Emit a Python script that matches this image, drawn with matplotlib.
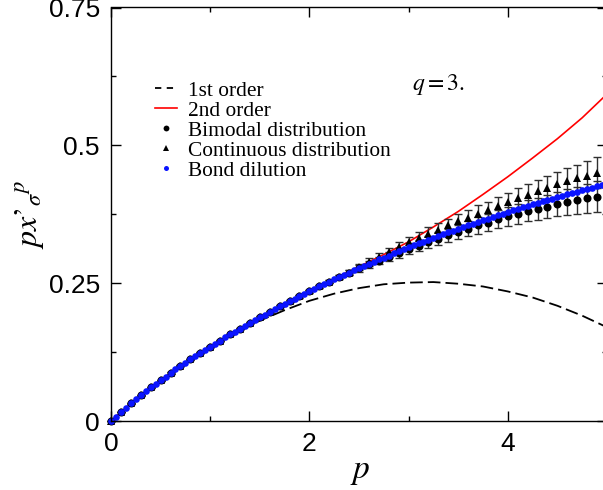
import numpy as np
import matplotlib
matplotlib.use("Agg")
import matplotlib.pyplot as plt
from matplotlib.lines import Line2D

plt.rcParams["mathtext.fontset"] = "stix"
plt.rcParams["font.family"] = ["Liberation Sans", "DejaVu Sans"]

# ---- series-expansion curves (sampled every 0.25 in p) ----
p_curve = [0.0, 0.25, 0.5, 0.75, 1.0, 1.25, 1.5, 1.75, 2.0, 2.25, 2.5,
           2.75, 3.0, 3.25, 3.5, 3.75, 4.0, 4.25, 4.5, 4.75, 5.0]
first_order = [0.0, 0.038, 0.073, 0.105, 0.134, 0.159, 0.182, 0.201, 0.218, 0.231, 0.241,
               0.248, 0.251, 0.252, 0.249, 0.244, 0.235, 0.224, 0.209, 0.191, 0.170]
second_order = [0.0, 0.0395, 0.074, 0.106, 0.135, 0.162, 0.188, 0.2125, 0.236, 0.258, 0.280,
                0.302, 0.325, 0.352, 0.380, 0.411, 0.443, 0.477, 0.512, 0.550, 0.593]

# ---- random-bond simulations (every 0.1 in p) ----
p_rb = [round(0.1 * i, 1) for i in range(51)]
bimodal = [0.0, 0.0165, 0.032, 0.047, 0.061, 0.074, 0.087, 0.100, 0.112, 0.124,
           0.135, 0.146, 0.157, 0.167, 0.178, 0.188, 0.198, 0.208, 0.217, 0.226,
           0.235, 0.244, 0.253, 0.261, 0.269, 0.277, 0.284, 0.291, 0.298, 0.305,
           0.312, 0.318, 0.324, 0.331, 0.337, 0.343, 0.349, 0.355, 0.360, 0.366,
           0.371, 0.376, 0.381, 0.385, 0.389, 0.393, 0.397, 0.400, 0.404, 0.407,
           0.410]
bimodal_err = [0.000, 0.000, 0.001, 0.001, 0.001, 0.001, 0.001, 0.001, 0.001, 0.001,
               0.001, 0.001, 0.001, 0.001, 0.001, 0.002, 0.002, 0.002, 0.002, 0.002,
               0.002, 0.003, 0.003, 0.004, 0.005, 0.006, 0.007, 0.007, 0.008, 0.009,
               0.010, 0.010, 0.011, 0.012, 0.012, 0.013, 0.014, 0.015, 0.015, 0.016,
               0.017, 0.018, 0.019, 0.020, 0.021, 0.022, 0.023, 0.025, 0.026, 0.028,
               0.029]
continuous = [0.0, 0.0165, 0.032, 0.047, 0.061, 0.074, 0.087, 0.100, 0.112, 0.124,
              0.135, 0.146, 0.157, 0.167, 0.178, 0.188, 0.198, 0.208, 0.217, 0.226,
              0.235, 0.244, 0.253, 0.261, 0.269, 0.279, 0.288, 0.297, 0.306, 0.315,
              0.324, 0.332, 0.340, 0.347, 0.355, 0.362, 0.369, 0.376, 0.383, 0.390,
              0.397, 0.404, 0.410, 0.417, 0.423, 0.429, 0.435, 0.440, 0.445, 0.450,
              0.455]
continuous_err = [0.000, 0.000, 0.001, 0.001, 0.001, 0.001, 0.001, 0.001, 0.001, 0.001,
                  0.001, 0.001, 0.001, 0.001, 0.001, 0.002, 0.002, 0.002, 0.002, 0.002,
                  0.002, 0.003, 0.003, 0.004, 0.005, 0.006, 0.007, 0.007, 0.008, 0.009,
                  0.010, 0.010, 0.011, 0.012, 0.012, 0.013, 0.014, 0.015, 0.015, 0.016,
                  0.017, 0.018, 0.019, 0.020, 0.021, 0.022, 0.023, 0.025, 0.026, 0.028,
                  0.029]

# ---- bond dilution (every 0.05 in p) ----
p_bd = [round(0.05 * i, 2) for i in range(101)]
bond_dilution = [0.000, 0.008, 0.0165, 0.024, 0.032, 0.0395, 0.047, 0.054, 0.061, 0.0675,
                 0.074, 0.0805, 0.087, 0.0935, 0.100, 0.106, 0.112, 0.118, 0.124, 0.1295,
                 0.135, 0.1405, 0.146, 0.1515, 0.157, 0.162, 0.167, 0.1725, 0.178, 0.183,
                 0.188, 0.193, 0.198, 0.203, 0.208, 0.2125, 0.217, 0.2215, 0.226, 0.2305,
                 0.235, 0.2395, 0.244, 0.2485, 0.253, 0.257, 0.261, 0.265, 0.269, 0.273,
                 0.277, 0.281, 0.285, 0.289, 0.293, 0.2965, 0.300, 0.304, 0.308, 0.3115,
                 0.315, 0.3185, 0.322, 0.3255, 0.329, 0.3325, 0.336, 0.339, 0.342, 0.3455,
                 0.349, 0.352, 0.355, 0.358, 0.361, 0.364, 0.367, 0.370, 0.373, 0.376,
                 0.379, 0.382, 0.385, 0.3875, 0.390, 0.393, 0.396, 0.3985, 0.401, 0.4035,
                 0.406, 0.4085, 0.411, 0.4135, 0.416, 0.4185, 0.421, 0.4235, 0.426, 0.428,
                 0.430]

W, H = 603, 490
fig = plt.figure(figsize=(W / 100, H / 100), dpi=100)
ax = fig.add_axes([111 / W, 69 / H, 496 / W, 413.5 / H])

ax.plot(p_curve, first_order, color="black", lw=1.3, dashes=(7, 2.8))
ax.plot(p_curve, second_order, color="red", lw=1.2)

ax.errorbar(p_rb, bimodal, yerr=bimodal_err, fmt="none", ecolor="#303030",
            elinewidth=1.0, capsize=2.8, capthick=1.0, clip_on=False)
ax.errorbar(p_rb, continuous, yerr=continuous_err, fmt="none", ecolor="#303030",
            elinewidth=1.0, capsize=2.8, capthick=1.0, clip_on=False)
ax.plot(p_rb, bimodal, "o", color="black", ms=5.8, mew=0, clip_on=False)
ax.plot(p_rb, continuous, "^", color="black", ms=6.2, mew=0, clip_on=False)
ax.plot(p_bd, bond_dilution, "o", color="#0a14ff", ms=4.8, mew=0, clip_on=False)

ax.set_xlim(0, 5)
ax.set_ylim(0, 0.75)
ax.set_xticks([0, 2, 4])
ax.set_xticklabels(["0", "2", "4"])
ax.set_xticks([1, 3, 5], minor=True)
ax.set_yticks([0, 0.25, 0.5, 0.75])
ax.set_yticklabels(["0", "0.25", "0.5", "0.75"])
ax.set_yticks([0.125, 0.375, 0.625], minor=True)
ax.tick_params(which="both", direction="in", top=True, right=True, width=1.0,
               labelsize=19, pad=8, color="black")
ax.tick_params(which="major", length=7.2)
ax.tick_params(which="minor", length=3.6)
for s in ax.spines.values():
    s.set_linewidth(1.0)

ax.set_xlabel(r"$p$", fontsize=24)
ax.xaxis.set_label_coords(0.502, -0.085)
ax.set_ylabel(r"$px\mathrm{’}_{\sigma}{}^{p}$", fontsize=23)
ax.yaxis.set_label_coords(-0.131, 0.50)

fig.text(412 / W, (H - 90) / H, r"$q=3.$", fontsize=17, va="baseline", ha="left")

handles = [
    Line2D([], [], color="black", lw=1.3, dashes=(3.5, 3.0)),
    Line2D([], [], color="red", lw=1.2),
    Line2D([], [], ls="none", marker="o", color="black", ms=4.2, mew=0),
    Line2D([], [], ls="none", marker="^", color="black", ms=4.4, mew=0),
    Line2D([], [], ls="none", marker="o", color="#0a14ff", ms=3.6, mew=0),
]
labels = ["1st order", "2nd order", "Bimodal distribution",
          "Continuous distribution", "Bond dilution"]
leg = ax.legend(handles, labels, loc="upper left",
                bbox_to_anchor=(155 / W, (H - 81) / H), bbox_transform=fig.transFigure,
                frameon=False, borderpad=0, borderaxespad=0, handlelength=1.03,
                handletextpad=0.5, labelspacing=0.0,
                prop={"family": "Liberation Serif", "size": 15.4})

fig.savefig("out.png", dpi=100)
